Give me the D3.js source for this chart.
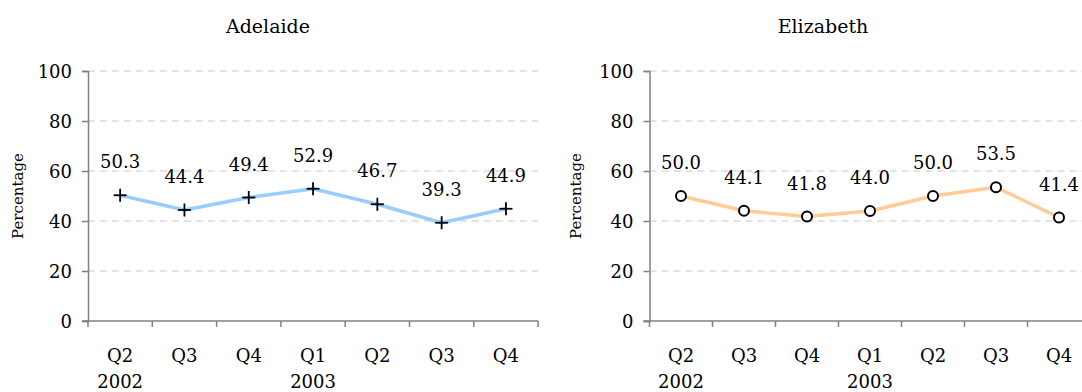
<!DOCTYPE html>
<html>
<head>
<meta charset="utf-8">
<script src="https://cdn.jsdelivr.net/npm/d3@7"></script>
<style>
  html, body { margin: 0; padding: 0; background: #fff; }
  svg { display: block; }
  svg text { font-family: "DejaVu Serif", serif !important; fill: #000; }
</style>
</head>
<body>
<svg id="chart" width="1082" height="392"></svg>
<script>
// Quarter labels along the x axis, with the year written under the first quarter of each year
const quarters = ["Q2", "Q3", "Q4", "Q1", "Q2", "Q3", "Q4"];
const years = ["2002", "", "", "2003", "", "", ""];
const yTicks = [0, 20, 40, 60, 80, 100];

// Percentage per quarter for each location
const adelaide = [50.3, 44.4, 49.4, 52.9, 46.7, 39.3, 44.9];
const elizabeth = [50.0, 44.1, 41.8, 44.0, 50.0, 53.5, 41.4];

const svg = d3.select("#chart");

function panel(opts) {
  const g = svg.append("g");
  const x = d3.scaleBand().domain(d3.range(quarters.length)).range([opts.left, opts.left + opts.step * quarters.length]).padding(0);
  const y = d3.scaleLinear().domain([0, 100]).range([321, 71]);

  // dashed horizontal gridlines
  g.selectAll("line.grid").data(yTicks.filter(d => d > 0)).join("line")
    .attr("x1", opts.left).attr("x2", opts.left + opts.step * quarters.length)
    .attr("y1", d => y(d)).attr("y2", d => y(d))
    .attr("stroke", "#c8c8c8").attr("stroke-width", 1).attr("stroke-dasharray", "7,5");

  // y axis
  const yAxis = g.append("g").attr("transform", `translate(${opts.left},0)`)
    .call(d3.axisLeft(y).tickValues(yTicks).tickSize(6).tickPadding(10).tickFormat(d3.format("d")));
  yAxis.attr("font-family", null).attr("font-size", null);
  yAxis.select(".domain").attr("stroke", "#808080").attr("stroke-width", 1.5);
  yAxis.selectAll(".tick line").attr("stroke", "#808080").attr("stroke-width", 1.5);
  yAxis.selectAll(".tick text").attr("font-size", 18).attr("fill", "#000").attr("dy", "0.34em");

  // x axis baseline and boundary ticks
  const bounds = d3.range(quarters.length + 1).map(i => opts.left + x.step() * i);
  g.append("line").attr("x1", opts.left - 6).attr("x2", bounds[bounds.length - 1])
    .attr("y1", y(0)).attr("y2", y(0)).attr("stroke", "#808080").attr("stroke-width", 1.5);
  g.selectAll("line.xt").data(bounds).join("line")
    .attr("x1", d => d).attr("x2", d => d).attr("y1", y(0)).attr("y2", y(0) + 6)
    .attr("stroke", "#808080").attr("stroke-width", 1.5);

  const cx = i => x(i) + x.bandwidth() / 2;

  g.selectAll("text.q").data(quarters).join("text")
    .attr("x", (d, i) => cx(i)).attr("y", 362).attr("text-anchor", "middle")
    .attr("font-size", 18).text(d => d);
  g.selectAll("text.yr").data(years).join("text")
    .attr("x", (d, i) => cx(i)).attr("y", 388).attr("text-anchor", "middle")
    .attr("font-size", 18).text(d => d);

  // series line
  g.append("path").datum(opts.values)
    .attr("fill", "none").attr("stroke", opts.color).attr("stroke-width", 3.5)
    .attr("stroke-linejoin", "round")
    .attr("d", d3.line().x((d, i) => cx(i)).y(d => y(d)));

  // markers
  if (opts.marker === "plus") {
    const m = g.selectAll("g.m").data(opts.values).join("g")
      .attr("transform", (d, i) => `translate(${cx(i)},${y(d)})`);
    m.append("line").attr("x1", -6.5).attr("x2", 6.5).attr("stroke", "#000").attr("stroke-width", 1.8);
    m.append("line").attr("y1", -6.5).attr("y2", 6.5).attr("stroke", "#000").attr("stroke-width", 1.8);
  } else {
    g.selectAll("circle").data(opts.values).join("circle")
      .attr("cx", (d, i) => cx(i)).attr("cy", d => y(d)).attr("r", 5)
      .attr("fill", "#fff").attr("stroke", "#000").attr("stroke-width", 2);
  }

  // value labels
  g.selectAll("text.v").data(opts.values).join("text")
    .attr("x", (d, i) => cx(i)).attr("y", d => y(d) - 27).attr("text-anchor", "middle")
    .attr("font-size", 18).text(d => d3.format(".1f")(d));

  // title and axis caption
  g.append("text").attr("x", opts.titleX).attr("y", 33).attr("text-anchor", "middle")
    .attr("font-size", 19).text(opts.title);
  g.append("text").attr("transform", `translate(${opts.captionX},196) rotate(-90)`)
    .attr("text-anchor", "middle").attr("font-size", 15).text("Percentage");
}

panel({ left: 88, step: 64.3, values: adelaide, color: "#99ccff", marker: "plus",
        title: "Adelaide", titleX: 268, captionX: 23 });
panel({ left: 649.5, step: 63, values: elizabeth, color: "#ffcc99", marker: "circle",
        title: "Elizabeth", titleX: 823, captionX: 581 });
</script>
</body>
</html>
